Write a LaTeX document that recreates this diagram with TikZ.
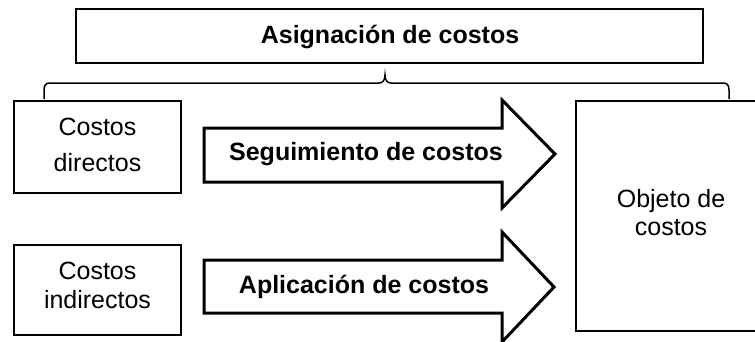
\documentclass[tikz,border=0pt]{standalone}
\usepackage{fontspec}
\setmainfont{Liberation Sans}
\begin{document}
\begin{tikzpicture}[x=1pt,y=-1pt,
  box/.style={draw=black,line width=2pt},
  arrowshape/.style={draw=black,line width=3pt,line join=miter,fill=white},
  bracepath/.style={draw=black,line width=1.5pt},
  boldlabel/.style={font=\fontsize{25}{30}\selectfont\bfseries,anchor=base,inner sep=0pt},
  plainlabel/.style={font=\fontsize{25}{30}\selectfont,anchor=base,inner sep=0pt}]
\useasboundingbox (0,0) rectangle (755,341);
\begin{scope}
\clip (0,0) rectangle (755,341);
% top box
\draw[box] (76,9) rectangle (703,63);
\node[boldlabel] (title) at (390,43) {Asignación de costos};
% brace
\coordinate (bl) at (44,99);
\coordinate (br) at (729,99);
\coordinate (bm) at (385,75);
\draw[bracepath] (bl) -- (44,90) .. controls (44,85) and (46,83) .. (50,83) -- (379,83)
  .. controls (383,83) and (385,80) .. (bm)
  .. controls (385,80) and (387,83) .. (391,83) -- (723,83)
  .. controls (727,83) and (729,85) .. (729,90) -- (br);
% left boxes
\draw[box] (14,101) rectangle (181,193);
\node[plainlabel] (cd1) at (97.5,135) {Costos};
\node[plainlabel] (cd2) at (97.5,171) {directos};
\draw[box] (14,245) rectangle (181,335);
\node[plainlabel] (ci1) at (97.5,279) {Costos};
\node[plainlabel] (ci2) at (97.5,308) {indirectos};
% right box
\draw[box] (576,101) rectangle (775,331);
\node[plainlabel] (ob1) at (671,207) {Objeto de};
\node[plainlabel] (ob2) at (671,235) {costos};
% arrows
\draw[arrowshape] (204,128) -- (502,128) -- (502,100) -- (555,154) -- (502,208) -- (502,182) -- (204,182) -- cycle;
\node[boldlabel] (seg) at (366,160) {Seguimiento de costos};
\draw[arrowshape] (204,260) -- (502,260) -- (502,232) -- (554,287) -- (502,342) -- (502,313) -- (204,313) -- cycle;
\node[boldlabel] (apl) at (364,293) {Aplicación de costos};
\end{scope}
\end{tikzpicture}
\end{document}
